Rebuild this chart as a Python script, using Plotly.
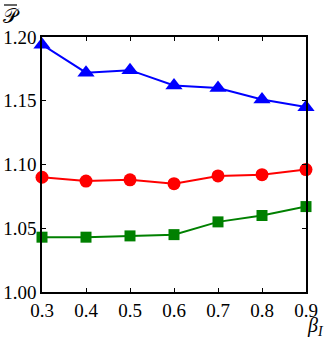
import plotly.graph_objects as go

# %% data
beta = [0.3, 0.4, 0.5, 0.6, 0.7, 0.8, 0.9]
p_blue = [1.194, 1.172, 1.174, 1.162, 1.160, 1.151, 1.145]
p_red = [1.090, 1.087, 1.088, 1.085, 1.091, 1.092, 1.096]
p_green = [1.043, 1.043, 1.044, 1.045, 1.055, 1.060, 1.067]
x_ticks = [0.3, 0.4, 0.5, 0.6, 0.7, 0.8, 0.9]
y_ticks = [1.00, 1.05, 1.10, 1.15, 1.20]

serif = "Liberation Serif"

# %% figure
fig = go.Figure()
series = [
    (p_blue, "rgb(0,0,255)", "triangle-up", 15),
    (p_red, "rgb(255,0,0)", "circle", 13),
    (p_green, "rgb(0,128,0)", "square", 11),
]
for vals, col, sym, sz in series:
    fig.add_trace(go.Scatter(
        x=beta, y=vals, mode="lines+markers",
        line=dict(color=col, width=2),
        marker=dict(symbol=sym, size=sz, color=col),
        cliponaxis=False, showlegend=False,
    ))

axis_style = dict(
    showline=True, linecolor="black", linewidth=1.5, mirror="ticks",
    ticks="inside", ticklen=4, tickwidth=1, tickcolor="black",
    showgrid=False, zeroline=False, automargin=False,
    tickfont=dict(family=serif, size=19, color="black"),
)
fig.update_xaxes(range=[0.3, 0.9], tickvals=x_ticks,
                 ticktext=[f"{v:.1f}" for v in x_ticks], **axis_style)
fig.update_yaxes(range=[1.0, 1.2], tickvals=y_ticks,
                 ticktext=[f"{v:.2f}" for v in y_ticks], **axis_style)

# y label: script P with a bar on top
fig.add_annotation(text="𝒫", xref="paper", yref="paper", x=0, y=1,
                   xshift=-31, yshift=21, xanchor="center", yanchor="middle",
                   showarrow=False, font=dict(family=serif, size=20, color="black"))
fig.add_shape(type="line", xref="paper", yref="paper",
              x0=-38 / 264, x1=-25 / 264, y0=1 + 32 / 255, y1=1 + 32 / 255,
              line=dict(color="black", width=1.2))
fig.add_annotation(text="<i>β</i><sub><i>I</i></sub>", xref="paper", yref="paper",
                   x=1.0, y=0, xshift=9, yshift=-20, xanchor="center", yanchor="top",
                   showarrow=False, font=dict(family=serif, size=20, color="black"))

fig.update_layout(
    width=332, height=340,
    margin=dict(l=42, r=26, t=37, b=48),
    paper_bgcolor="white", plot_bgcolor="white",
    font=dict(family=serif),
)

# drop the default 8px page margin so the figure fills the window
fig.write_html("out.html", config={"displayModeBar": False},
               post_script="document.body.style.margin='0';")
